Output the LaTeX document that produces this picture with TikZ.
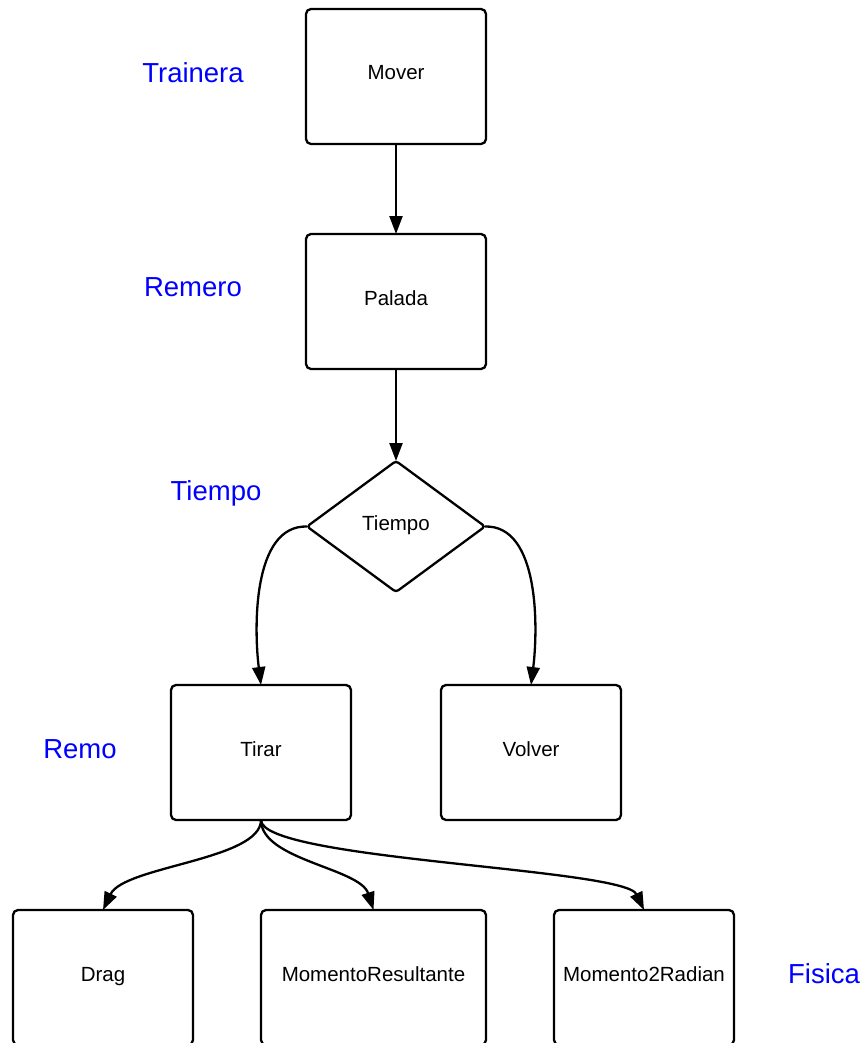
\documentclass[tikz,border=0pt]{standalone}
\usepackage{fontspec}
\setmainfont{Liberation Sans}
\usetikzlibrary{shapes.geometric,arrows.meta}
\begin{document}
\begin{tikzpicture}[x=1pt,y=-1pt,
  boxtext/.style={font=\fontsize{20.5}{24}\selectfont,text height=15pt,text depth=8pt},
  box/.style={draw=black,line width=2.3pt,rounded corners=5pt,minimum width=180pt,minimum height=135pt,
    inner sep=0pt,outer sep=0pt,boxtext},
  decision/.style={diamond,draw=black,line width=2.3pt,rounded corners=3pt,minimum width=178pt,minimum height=131pt,
    inner sep=0pt,outer sep=0pt,boxtext},
  layer/.style={text=blue,font=\fontsize{27.5}{32}\selectfont,inner sep=0pt},
  link/.style={line width=2.3pt,-{Triangle[length=18pt,width=13pt]}}]
\useasboundingbox (0,0) rectangle (864,1043);
\clip (0,0) rectangle (864,1043);

% process boxes
\node[box] (mover) at (396,76.5) {Mover};
\node[box] (palada) at (396,301.5) {Palada};
\node[decision] (tiempo) at (396,526.5) {Tiempo};
\node[box] (tirar) at (261,752.5) {Tirar};
\node[box] (volver) at (531,752.5) {Volver};
\node[box] (drag) at (103,977.5) {};
\node[box,minimum width=225pt] (momres) at (373.5,977.5) {};
\node[box] (mom2rad) at (644,977.5) {};
\node[boxtext] (dragt) at (103,978) {Drag};
\node[boxtext] (momrest) at (373.5,978) {MomentoResultante};
\node[boxtext] (mom2radt) at (644,978) {Momento2Radian};

% layer labels
\node[layer] (ltrainera) at (193,73) {Trainera};
\node[layer] (lremero) at (193,287) {Remero};
\node[layer] (ltiempo) at (216,493) {Tiempo};
\node[layer] (lremo) at (80,749) {Remo};
\node[layer] (lfisica) at (824,974) {Fisica};

% connectors
\draw[link] (mover.south) -- (palada.north);
\draw[link] (palada.south) -- (tiempo.north);
\draw[link] (tiempo.west) .. controls (252,525) and (254,630) .. (tirar.north);
\draw[link] (tiempo.east) .. controls (540,525) and (538,630) .. (volver.north);
\draw[link] (tirar.south) .. controls (261,860) and (124,866) .. (drag.north);
\draw[link] (tirar.south) .. controls (261,860) and (360,868) .. (momres.north);
\draw[link] (tirar.south) .. controls (261,860) and (624,868) .. (mom2rad.north);
\end{tikzpicture}
\end{document}
